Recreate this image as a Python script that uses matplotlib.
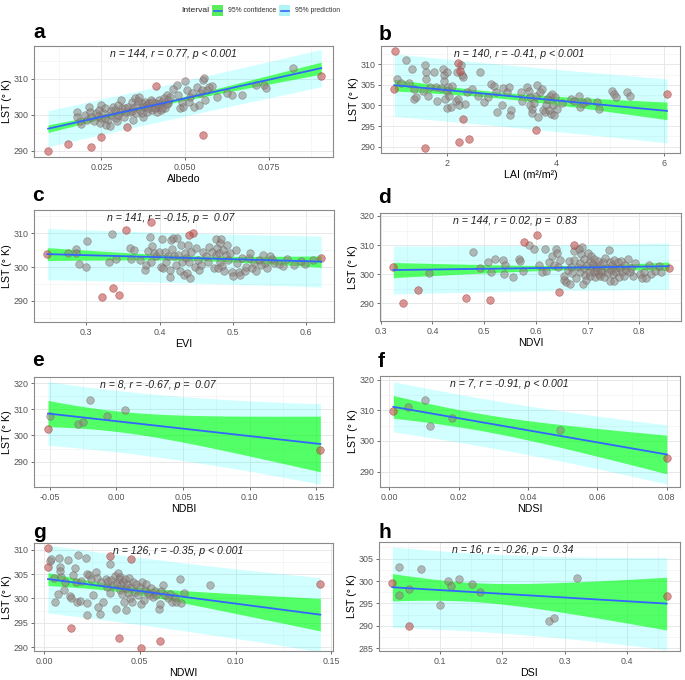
import numpy as np
import matplotlib
matplotlib.use("Agg")
import matplotlib.pyplot as plt
from matplotlib.patches import Rectangle
from matplotlib.lines import Line2D
from matplotlib.ticker import MultipleLocator, AutoMinorLocator, FormatStrFormatter

plt.rcParams['font.family'] = ['Liberation Sans', 'DejaVu Sans']
plt.rcParams['axes.unicode_minus'] = False

# ---- data: (x, LST) pairs, red = flagged points ----
albedo_gray = [
    (0.0177, 300.9), (0.0177, 299.4), (0.0185, 298.2), (0.0190, 297.4), (0.0200, 300.0),
    (0.0207, 298.6), (0.0213, 302.3), (0.0215, 300.9), (0.0220, 299.5), (0.0227, 298.2),
    (0.0235, 300.5), (0.0243, 301.4), (0.0245, 297.7), (0.0250, 302.8), (0.0250, 299.1),
    (0.0255, 300.5), (0.0260, 301.8), (0.0265, 297.2), (0.0270, 298.6), (0.0275, 296.8),
    (0.0280, 300.0), (0.0285, 302.3), (0.0290, 301.4), (0.0293, 299.1), (0.0297, 298.2),
    (0.0300, 302.8), (0.0305, 300.9), (0.0310, 304.1), (0.0313, 301.8), (0.0317, 299.5),
    (0.0323, 300.9), (0.0330, 302.3), (0.0335, 300.9), (0.0340, 303.7), (0.0343, 298.6),
    (0.0345, 301.8), (0.0350, 304.6), (0.0353, 300.5), (0.0357, 302.8), (0.0363, 305.0),
    (0.0365, 301.4), (0.0370, 303.2), (0.0375, 299.5), (0.0377, 302.3), (0.0380, 303.7),
    (0.0385, 300.9), (0.0387, 302.8), (0.0393, 303.2), (0.0398, 304.1), (0.0400, 301.4),
    (0.0405, 302.3), (0.0410, 303.2), (0.0415, 300.9), (0.0418, 302.3), (0.0422, 304.1),
    (0.0425, 302.8), (0.0428, 301.4), (0.0432, 303.7), (0.0437, 304.6), (0.0440, 301.8),
    (0.0447, 305.5), (0.0450, 303.2), (0.0455, 305.0), (0.0465, 307.3), (0.0475, 308.4),
    (0.0480, 305.5), (0.0485, 301.8), (0.0490, 303.7), (0.0493, 302.3), (0.0500, 309.4),
    (0.0505, 306.9), (0.0510, 303.7), (0.0515, 305.0), (0.0520, 306.0), (0.0525, 302.3),
    (0.0535, 307.8), (0.0540, 302.8), (0.0543, 306.0), (0.0550, 306.9), (0.0553, 309.6),
    (0.0557, 310.1), (0.0560, 304.1), (0.0565, 306.9), (0.0570, 307.8), (0.0580, 308.1),
    (0.0595, 305.0), (0.0625, 306.0), (0.0640, 305.5), (0.0670, 305.5), (0.0710, 308.4),
    (0.0735, 308.4), (0.0740, 307.5), (0.0822, 313.0),
    (0.0280, 301.0), (0.0300, 300.0), (0.0320, 302.0), (0.0340, 301.0), (0.0360, 303.8),
    (0.0390, 302.0), (0.0410, 301.8), (0.0420, 303.0), (0.0430, 302.0), (0.0445, 303.0),
    (0.0240, 299.8), (0.0260, 299.0), (0.0370, 300.5), (0.0400, 303.5), (0.0450, 304.0),
]
albedo_red = [(0.0091, 289.9), (0.0151, 291.9), (0.0220, 291.1), (0.0250, 293.8),
              (0.0325, 296.5), (0.0413, 307.9), (0.0553, 294.5), (0.0906, 310.9)]

lai_gray = [
    (1.07, 306.5), (1.14, 305.5), (1.23, 310.9), (1.29, 305.5), (1.34, 308.9), (1.39, 304.0),
    (1.39, 301.5), (1.42, 302.0), (1.54, 303.6), (1.58, 309.8), (1.60, 308.1), (1.60, 306.3),
    (1.64, 302.4), (1.68, 304.4), (1.75, 308.1), (1.79, 304.4), (1.80, 301.2), (1.88, 304.2),
    (1.91, 308.9), (1.93, 307.4), (1.94, 306.0), (1.95, 301.6), (1.99, 303.6), (2.00, 308.1),
    (2.01, 304.4), (2.03, 302.4), (1.99, 299.4), (2.06, 299.6), (2.09, 304.8), (2.15, 301.0),
    (2.18, 308.1), (2.20, 301.6), (2.21, 300.0), (2.25, 309.7), (2.26, 307.3), (2.29, 306.9),
    (2.32, 300.4), (2.36, 303.2), (2.46, 304.0), (2.56, 302.4), (2.60, 308.1), (2.67, 300.8),
    (2.74, 302.0), (2.81, 305.2), (2.85, 304.8), (2.89, 303.2), (2.92, 298.5), (3.01, 300.0),
    (3.03, 304.2), (3.09, 303.2), (3.13, 304.4), (3.15, 297.6), (3.18, 299.0),
    (3.35, 303.2), (3.38, 301.2), (3.47, 304.4), (3.50, 303.6), (3.52, 302.0), (3.53, 300.0),
    (3.55, 299.2), (3.56, 298.2), (3.60, 300.6), (3.63, 302.4), (3.66, 305.0), (3.67, 297.2),
    (3.71, 303.2), (3.75, 304.0), (3.77, 299.0), (3.79, 298.4), (3.81, 300.0), (3.84, 301.5),
    (3.87, 298.8), (3.90, 302.4), (3.91, 298.0), (3.93, 302.8), (3.95, 300.2), (3.96, 297.6),
    (3.99, 302.0), (4.02, 299.2), (4.12, 300.6), (4.27, 301.5), (4.33, 301.0), (4.42, 302.3),
    (4.45, 299.6), (4.50, 300.6), (4.58, 301.2), (4.76, 300.8), (4.79, 299.2), (5.04, 303.6),
    (5.07, 302.8), (5.10, 302.0), (5.31, 303.2), (5.36, 302.4),
]
lai_red = [(1.03, 313.3), (1.02, 303.9), (2.20, 310.2), (2.23, 308.3), (2.29, 296.8),
           (2.21, 291.1), (2.39, 291.8), (1.58, 289.8), (3.63, 294.0), (6.05, 302.8)]

evi_gray = [
    (0.275, 304.0), (0.2855, 305.2), (0.2864, 304.0), (0.2895, 300.9), (0.299, 299.9),
    (0.301, 307.7), (0.331, 301.4), (0.3355, 309.7), (0.340, 302.4), (0.359, 305.5),
    (0.361, 302.4), (0.3645, 305.0), (0.3727, 302.1), (0.3795, 299.1), (0.3818, 300.6),
    (0.384, 304.7), (0.3864, 308.7), (0.3886, 301.6), (0.390, 306.3), (0.3918, 304.0),
    (0.3945, 303.3), (0.399, 304.5), (0.4023, 300.1), (0.4036, 308.3), (0.4045, 299.6),
    (0.4068, 304.5), (0.409, 301.4), (0.4114, 303.1), (0.4136, 297.1), (0.4145, 299.1),
    (0.416, 308.0), (0.4173, 305.3), (0.418, 308.5), (0.419, 303.1), (0.422, 300.6),
    (0.4236, 308.5), (0.425, 303.5), (0.4273, 298.8), (0.4295, 306.5), (0.4309, 301.6),
    (0.4327, 297.6), (0.434, 304.0), (0.4355, 302.6), (0.4373, 298.1), (0.4386, 306.5),
    (0.440, 301.6), (0.441, 296.8), (0.443, 304.5), (0.4477, 300.1), (0.450, 305.5),
    (0.4523, 302.1), (0.4536, 299.1), (0.4568, 300.6), (0.459, 304.5), (0.4627, 303.1),
    (0.466, 301.4), (0.468, 306.0), (0.4718, 304.5), (0.4736, 299.6), (0.4764, 303.5),
    (0.4773, 308.3), (0.478, 305.5), (0.4795, 299.8), (0.481, 304.0), (0.4818, 307.0),
    (0.4827, 301.6), (0.484, 308.3), (0.4855, 300.4), (0.4864, 305.0), (0.4873, 298.8),
    (0.490, 303.5), (0.4918, 306.5), (0.4932, 302.1), (0.4964, 304.0), (0.499, 298.4),
    (0.500, 297.4), (0.5036, 305.0), (0.5055, 301.1), (0.5082, 298.4), (0.510, 297.6),
    (0.5127, 302.8), (0.516, 298.8), (0.518, 300.1), (0.5218, 302.6), (0.5236, 304.0),
    (0.5264, 299.6), (0.5295, 301.1), (0.5318, 298.8), (0.5355, 302.1), (0.5386, 300.6),
    (0.541, 303.5), (0.5445, 301.1), (0.5464, 299.8), (0.551, 303.3), (0.5536, 302.4),
    (0.5568, 301.1), (0.5636, 300.8), (0.569, 300.4), (0.5736, 302.4), (0.584, 300.6),
    (0.5932, 301.8), (0.599, 300.8), (0.609, 302.1),
]
evi_red = [(0.2468, 303.7), (0.3218, 291.2), (0.3364, 293.9), (0.3445, 291.9), (0.3545, 310.9),
           (0.3886, 313.2), (0.4455, 310.1), (0.440, 309.3), (0.6205, 302.8)]

ndvi_gray = [
    (0.394, 300.3), (0.479, 307.8), (0.4923, 302.1), (0.5084, 304.1), (0.513, 300.7),
    (0.5213, 305.3), (0.5361, 304.9), (0.5387, 300.0), (0.5406, 303.2), (0.5555, 299.2),
    (0.5665, 305.3), (0.5684, 304.4), (0.5748, 301.1), (0.5858, 310.1), (0.5955, 308.7),
    (0.6052, 303.2), (0.6116, 300.7), (0.618, 308.7), (0.620, 301.1), (0.6245, 304.1),
    (0.631, 306.1), (0.6342, 303.2), (0.6394, 308.7), (0.6406, 307.2), (0.6419, 302.6),
    (0.6458, 304.9), (0.6535, 299.5), (0.6548, 298.1), (0.6587, 297.3), (0.6613, 301.5),
    (0.6632, 304.4), (0.6665, 296.6), (0.6677, 302.6), (0.6697, 300.3), (0.6729, 308.0),
    (0.6742, 304.9), (0.678, 298.6), (0.6806, 302.6), (0.6826, 308.7), (0.6845, 300.7),
    (0.6858, 303.8), (0.6871, 306.9), (0.689, 309.2), (0.691, 296.6), (0.6923, 302.1),
    (0.6935, 305.3), (0.6955, 299.8), (0.6974, 298.1), (0.6987, 303.2), (0.700, 307.2),
    (0.7019, 300.7), (0.7039, 304.6), (0.7052, 299.5), (0.7065, 306.1), (0.7084, 302.1),
    (0.7103, 303.4), (0.7116, 300.7), (0.7129, 305.3), (0.7148, 299.2), (0.7168, 302.6),
    (0.7181, 301.1), (0.7194, 304.6), (0.7213, 300.0), (0.7232, 303.2), (0.7245, 299.5),
    (0.7258, 301.5), (0.7277, 300.7), (0.7297, 304.1), (0.731, 299.2), (0.7342, 305.7),
    (0.7374, 302.3), (0.7387, 300.3), (0.7406, 308.4), (0.7426, 304.1), (0.7439, 297.7),
    (0.7452, 301.5), (0.7471, 303.2), (0.749, 300.0), (0.7503, 304.9), (0.7516, 297.7),
    (0.7535, 302.1), (0.7555, 300.7), (0.7581, 304.1), (0.760, 299.2), (0.7619, 302.1),
    (0.7645, 304.6), (0.7665, 300.9), (0.7697, 299.5), (0.7729, 303.2), (0.7748, 301.5),
    (0.7774, 305.3), (0.7813, 300.7), (0.7839, 302.3), (0.7877, 299.5), (0.7923, 303.8),
    (0.8019, 300.0), (0.8052, 298.9), (0.8097, 300.9), (0.8135, 298.6), (0.8181, 303.2),
    (0.8226, 300.0), (0.831, 301.1), (0.8374, 303.0), (0.8419, 300.7),
]
ndvi_red = [(0.3245, 302.6), (0.3439, 290.0), (0.373, 294.6), (0.4652, 292.0), (0.5116, 291.2),
            (0.5774, 311.0), (0.602, 313.3), (0.6439, 294.0), (0.673, 310.1), (0.8568, 302.3)]

ndbi_gray = [(-0.0495, 307.6), (-0.0288, 304.2), (-0.025, 305.1), (-0.020, 313.4),
             (-0.0068, 307.6), (0.0063, 309.8)]
ndbi_red = [(-0.0513, 302.5), (0.153, 294.5)]

ndsi_gray = [(0.0055, 311.1), (0.0103, 313.3), (0.0117, 305.0), (0.018, 307.6), (0.0492, 303.7)]
ndsi_red = [(0.00115, 309.7), (0.080, 294.4)]

ndwi_gray = [
    (0.0033, 307.7), (0.0038, 308.2), (0.005, 304.2), (0.0056, 299.3), (0.0073, 301.0),
    (0.0078, 308.4), (0.0082, 306.5), (0.0085, 305.7), (0.009, 304.5), (0.0103, 301.7),
    (0.0108, 303.3), (0.0125, 307.9), (0.0134, 300.5), (0.0143, 300.0), (0.0151, 304.8),
    (0.016, 306.3), (0.0165, 303.3), (0.0172, 299.2), (0.0177, 308.9), (0.0186, 299.5),
    (0.0195, 303.6), (0.0218, 308.4), (0.0224, 305.1), (0.0224, 299.0), (0.0224, 296.7),
    (0.0235, 304.8), (0.0247, 304.1), (0.0256, 300.8), (0.027, 305.5), (0.0277, 304.2),
    (0.0282, 298.3), (0.029, 296.9), (0.0299, 303.3), (0.0308, 299.2), (0.0322, 304.1),
    (0.0329, 302.4), (0.0334, 303.6), (0.0343, 307.0), (0.0346, 301.2), (0.0351, 303.8),
    (0.036, 302.7), (0.0369, 304.7), (0.0374, 297.8), (0.0381, 303.1), (0.0386, 305.3),
    (0.0392, 304.0), (0.0395, 301.7), (0.0398, 304.5), (0.0404, 302.7), (0.0409, 301.0),
    (0.0412, 303.4), (0.0416, 299.2), (0.0421, 304.1), (0.0426, 302.1), (0.043, 297.6),
    (0.0433, 302.9), (0.0438, 301.2), (0.0444, 304.2), (0.0451, 300.1), (0.0456, 302.4),
    (0.0461, 299.3), (0.0465, 303.3), (0.0473, 301.4), (0.0482, 302.9), (0.0491, 300.8),
    (0.0499, 302.4), (0.0508, 298.8), (0.0513, 303.3), (0.052, 299.7), (0.0526, 301.7),
    (0.0534, 302.9), (0.0543, 301.2), (0.0552, 300.8), (0.056, 302.2), (0.0569, 300.3),
    (0.0578, 301.5), (0.0586, 300.8), (0.060, 297.8), (0.0604, 298.8), (0.0613, 301.5),
    (0.0621, 302.7), (0.063, 300.8), (0.0647, 300.0), (0.0656, 301.0), (0.067, 299.3),
    (0.0682, 300.3), (0.0691, 299.3), (0.0708, 304.0), (0.0717, 299.0), (0.0729, 301.2),
    (0.0865, 302.7),
]
ndwi_red = [(0.0021, 310.3), (0.0021, 306.4), (0.0143, 294.0), (0.0343, 308.7), (0.039, 291.9),
            (0.0456, 308.2), (0.0505, 289.9), (0.0604, 291.2), (0.1443, 302.9)]

dsi_gray = [(0.0349, 303.2), (0.0349, 296.9), (0.0509, 298.2), (0.0706, 302.7), (0.100, 294.6),
            (0.1133, 299.9), (0.1187, 299.0), (0.131, 300.4), (0.1518, 299.3), (0.1651, 297.5),
            (0.2751, 291.0), (0.2826, 291.8), (0.320, 300.6)]
dsi_red = [(0.0242, 299.5), (0.0509, 290.0), (0.463, 296.6)]

panel_letters = ['a', 'b', 'c', 'd', 'e', 'f', 'g', 'h']
x_titles = ['Albedo', 'LAI (m²/m²)', 'EVI', 'NDVI', 'NDBI', 'NDSI', 'NDWI', 'DSI']
stat_labels = ['n = 144, r = 0.77, p < 0.001', 'n = 140, r = -0.41, p < 0.001',
               'n = 141, r = -0.15, p =  0.07', 'n = 144, r = 0.02, p =  0.83',
               'n = 8, r = -0.67, p =  0.07', 'n = 7, r = -0.91, p < 0.001',
               'n = 126, r = -0.35, p < 0.001', 'n = 16, r = -0.26, p =  0.34']
gray_sets = [albedo_gray, lai_gray, evi_gray, ndvi_gray, ndbi_gray, ndsi_gray, ndwi_gray, dsi_gray]
red_sets = [albedo_red, lai_red, evi_red, ndvi_red, ndbi_red, ndsi_red, ndwi_red, dsi_red]

# ---- layout (pixels: left, top, right, bottom) and scales ----
W, H = 685, 680
boxes = [(34, 46, 333, 157), (381, 46, 680, 153),
         (34, 210, 334, 322), (380, 213, 681, 321),
         (34, 377, 333, 487), (380, 376, 680, 487),
         (34, 543, 333, 651), (379, 542, 680, 651)]
xlims = [(0.0049, 0.0941), (0.773, 6.29), (0.2286, 0.638), (0.2987, 0.8806),
         (-0.0618, 0.1625), (-0.0027, 0.0838), (-0.0052, 0.1509), (0.0028, 0.4844)]
ylims = [(288.3, 319.1), (288.5, 314.4), (283.8, 316.8), (284.0, 321.0),
         (280.3, 322.3), (284.95, 321.2), (289.2, 311.4), (284.4, 308.7)]
x_steps = [0.025, 2, 0.1, 0.1, 0.05, 0.02, 0.05, 0.1]
x_fmts = ['%.3f', '%d', '%.1f', '%.1f', '%.2f', '%.2f', '%.2f', '%.1f']
y_steps = [10, 5, 10, 10, 10, 10, 5, 5]
stat_x = [0.254, 0.243, 0.243, 0.243, 0.221, 0.233, 0.263, 0.242]
letter_pos = [(33, 38), (379, 40), (32, 201), (378, 203), (32, 366), (378, 367), (33, 538), (378, 538)]


def t975(df):
    # Cornish-Fisher expansion of the 97.5% Student t quantile
    z = 1.959964
    return (z + (z**3 + z) / (4 * df) + (5 * z**5 + 16 * z**3 + 3 * z) / (96 * df**2)
            + (3 * z**7 + 19 * z**5 + 17 * z**3 - 15 * z) / (384 * df**3))


def lm_bands(x, y, num=80):
    x = np.asarray(x)
    y = np.asarray(y)
    n = len(x)
    slope, icpt = np.polyfit(x, y, 1)
    xs = np.linspace(x.min(), x.max(), num)
    fit = icpt + slope * xs
    resid = y - (icpt + slope * x)
    s = np.sqrt((resid ** 2).sum() / (n - 2))
    lev = 1.0 / n + (xs - x.mean()) ** 2 / ((x - x.mean()) ** 2).sum()
    t = t975(n - 2)
    return xs, fit, t * s * np.sqrt(lev), t * s * np.sqrt(1 + lev)


fig = plt.figure(figsize=(W / 100, H / 100), dpi=100)

for i in range(8):
    l, t, r, b = boxes[i]
    ax = fig.add_axes([l / W, 1 - b / H, (r - l) / W, (b - t) / H])
    gx, gy = zip(*gray_sets[i])
    rx, ry = zip(*red_sets[i])
    allx = list(gx) + list(rx)
    ally = list(gy) + list(ry)
    xs, fit, ci, pi = lm_bands(allx, ally)

    ax.fill_between(xs, fit - pi, fit + pi, color='#00FFFF', alpha=0.18, lw=0, zorder=1)
    ax.fill_between(xs, fit - ci, fit + ci, color='#00FF00', alpha=0.6, lw=0, zorder=2)
    ax.scatter(gx, gy, s=30, c='#90807C', alpha=0.55, edgecolors='#706260', linewidths=0.5, zorder=3)
    ax.scatter(rx, ry, s=30, c='#C0504D', alpha=0.6, edgecolors='#9E3E3B', linewidths=0.5, zorder=3)
    ax.plot(xs, fit, color='#3366FF', lw=1.3, zorder=4)

    ax.set_xlim(*xlims[i])
    ax.set_ylim(*ylims[i])
    ax.xaxis.set_major_locator(MultipleLocator(x_steps[i]))
    ax.xaxis.set_minor_locator(AutoMinorLocator(2))
    ax.yaxis.set_major_locator(MultipleLocator(y_steps[i]))
    ax.yaxis.set_minor_locator(AutoMinorLocator(2))
    ax.xaxis.set_major_formatter(FormatStrFormatter(x_fmts[i]))
    ax.yaxis.set_major_formatter(FormatStrFormatter('%d'))
    ax.grid(True, which='major', color='#E8E8E8', lw=0.7, zorder=0)
    ax.grid(True, which='minor', color='#F0F0F0', lw=0.4, zorder=0)
    ax.set_axisbelow(True)
    ax.tick_params(which='major', length=2.5, width=0.6, color='#555555', pad=1.5,
                   labelsize=6.4, labelcolor='#555555')
    ax.tick_params(which='minor', length=0)
    for sp in ax.spines.values():
        sp.set_color('#8A8A8A')
        sp.set_linewidth(0.8)

    ax.set_xlabel(x_titles[i], fontsize=7.7, labelpad=2)
    ax.set_ylabel('LST (° K)', fontsize=7.7, labelpad=1)
    ax.text(stat_x[i], 0.925, stat_labels[i], transform=ax.transAxes, ha='left', va='center',
            fontsize=7.6, style='italic', color='#222222', zorder=5)

    lx, ly = letter_pos[i]
    fig.text(lx / W, 1 - ly / H, panel_letters[i], fontsize=15, fontweight='bold',
             ha='left', va='baseline')

# ---- legend at the top ----
fig.text(181 / W, 1 - 10.5 / H, 'Interval', fontsize=6.1, ha='left', va='center', color='#222222')
keys = [(212, '#5AEF5A', '95% confidence'), (279, '#B0F4F4', '95% prediction')]
for kx, kc, kl in keys:
    fig.patches.append(Rectangle((kx / W, 1 - 16 / H), 11 / W, 11 / H, transform=fig.transFigure,
                                 facecolor=kc, edgecolor='none'))
    fig.lines.append(Line2D([(kx + 1.5) / W, (kx + 9.5) / W], [1 - 10.5 / H, 1 - 10.5 / H],
                            transform=fig.transFigure, color='#3366FF', lw=1.2))
    fig.text((kx + 16) / W, 1 - 10.5 / H, kl, fontsize=4.9, ha='left', va='center', color='#333333')

fig.savefig('out.png', dpi=100)
